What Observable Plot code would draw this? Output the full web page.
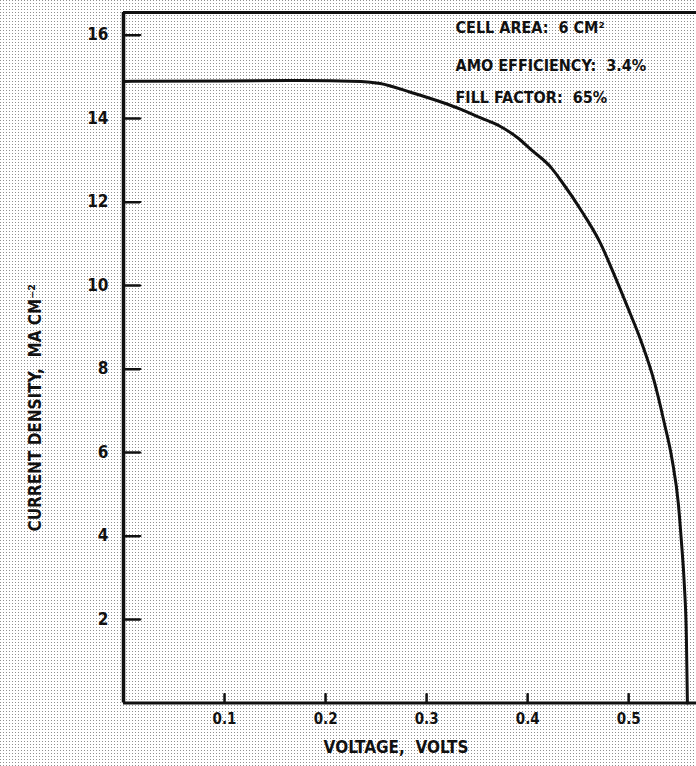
<!DOCTYPE html>
<html>
<head>
<meta charset="utf-8">
<script src="https://cdn.jsdelivr.net/npm/d3@7"></script>
<script src="https://cdn.jsdelivr.net/npm/@observablehq/plot@0.6"></script>
<style>
  html, body { margin: 0; padding: 0; }
  body {
    width: 696px; height: 766px; overflow: hidden;
    background-color: #ffffff;
    background-image: url("data:image/svg+xml,%3Csvg xmlns='http://www.w3.org/2000/svg' width='3' height='3'%3E%3Crect x='0' y='0' width='1' height='1' fill='%23909090'/%3E%3C/svg%3E");
  }
</style>
</head>
<body>
<div id="chart"></div>
<script>
const voltage = [0, 0.10, 0.175, 0.235, 0.254, 0.284, 0.334, 0.353, 0.373, 0.390, 0.403, 0.423, 0.433, 0.455, 0.472, 0.485, 0.499, 0.512, 0.525, 0.535, 0.543, 0.549, 0.552, 0.555, 0.557, 0.558];
const current = [14.89, 14.90, 14.91, 14.89, 14.84, 14.63, 14.22, 14.02, 13.81, 13.54, 13.26, 12.83, 12.51, 11.72, 11.01, 10.29, 9.47, 8.68, 7.72, 6.72, 5.81, 4.78, 3.89, 2.81, 1.57, 0];
const xTicks = [0.1, 0.2, 0.3, 0.4, 0.5];
const yTicks = [2, 4, 6, 8, 10, 12, 14, 16];
const notes = ["CELL AREA:  6 CM²", "AMO EFFICIENCY:  3.4%", "FILL FACTOR:  65%"];
const xLabel = "VOLTAGE,  VOLTS";
const yLabel = "CURRENT DENSITY,  MA CM⁻²";
const xDomain = [0, 0.567];
const yDomain = [0, 16.54];

const points = voltage.map((v, i) => ({v, j: current[i]}));
const ink = "#111";
const narrow = "Liberation Sans Narrow, DejaVu Sans Condensed, sans-serif";
const cond = "DejaVu Sans Condensed, Liberation Sans Narrow, sans-serif";
const noteDy = [15, 53, 85];

const W = 696, H = 766, mL = 123, mR = 0, mT = 12, mB = 63.5;
const frameW = W - mL - mR, frameH = H - mT - mB;
const yTickLen = 17, xTickLen = 9;
// pixel tick lengths expressed in data units
const xPerPx = (xDomain[1] - xDomain[0]) / frameW;
const yPerPx = (yDomain[1] - yDomain[0]) / frameH;

// inward tick segments built from the tick arrays
const yTickSegs = yTicks.flatMap(t => [
  {t, x: xDomain[0], y: t},
  {t, x: xDomain[0] + yTickLen * xPerPx, y: t}
]);
const xTickSegs = xTicks.flatMap(t => [
  {t, x: t, y: yDomain[0]},
  {t, x: t, y: yDomain[0] + xTickLen * yPerPx}
]);

const chart = Plot.plot({
  width: W,
  height: H,
  marginLeft: mL,
  marginRight: mR,
  marginTop: mT,
  marginBottom: mB,
  style: {fontFamily: cond, color: ink, background: "transparent"},
  x: {domain: xDomain},
  y: {domain: yDomain},
  marks: [
    // tick labels
    Plot.axisY(yTicks, {tickSize: 0, tickPadding: 15, fontSize: 17, fontWeight: "bold", fontFamily: narrow, fill: ink, label: null}),
    Plot.axisX(xTicks, {tickSize: 0, tickPadding: 10, fontSize: 15, fontWeight: "bold", fill: ink, label: null, tickFormat: d => d.toFixed(1)}),
    // frame lines
    Plot.ruleY([0], {stroke: ink, strokeWidth: 3}),
    Plot.ruleX([0], {stroke: ink, strokeWidth: 3.5}),
    Plot.ruleY([yDomain[1]], {stroke: ink, strokeWidth: 3}),
    // inward tick marks
    Plot.line(yTickSegs, {x: "x", y: "y", z: "t", stroke: ink, strokeWidth: 2}),
    Plot.line(xTickSegs, {x: "x", y: "y", z: "t", stroke: ink, strokeWidth: 2}),
    // I–V curve
    Plot.line(points, {x: "v", y: "j", curve: "monotone-x", stroke: ink, strokeWidth: 3}),
    // annotations
    ...notes.map((t, i) => Plot.text([t], {frameAnchor: "top-left", dx: 332, dy: noteDy[i], textAnchor: "start", lineAnchor: "middle", fontSize: 16, fontWeight: "bold", fill: ink})),
    Plot.text([xLabel], {frameAnchor: "bottom", dx: -14, dy: 45, textAnchor: "middle", lineAnchor: "middle", fontSize: 17, fontWeight: "bold", fill: ink}),
    Plot.text([yLabel], {frameAnchor: "left", rotate: -90, dx: -88, dy: 50, textAnchor: "middle", lineAnchor: "middle", fontSize: 17, fontWeight: "bold", fill: ink})
  ]
});
document.getElementById("chart").appendChild(chart);

// fallback: draw the same inward ticks with Plot's own scales if the marks above were dropped
const sx = chart.scale("x"), sy = chart.scale("y");
const g = d3.select(chart).append("g").attr("stroke", ink).attr("stroke-width", 2);
g.selectAll("line.yt").data(yTicks).join("line")
  .attr("x1", sx.apply(xDomain[0])).attr("x2", sx.apply(xDomain[0]) + yTickLen)
  .attr("y1", d => Math.round(sy.apply(d)) + 0.5).attr("y2", d => Math.round(sy.apply(d)) + 0.5);
g.selectAll("line.xt").data(xTicks).join("line")
  .attr("x1", d => Math.round(sx.apply(d)) + 0.5).attr("x2", d => Math.round(sx.apply(d)) + 0.5)
  .attr("y1", sy.apply(yDomain[0])).attr("y2", sy.apply(yDomain[0]) - xTickLen);
</script>
</body>
</html>
